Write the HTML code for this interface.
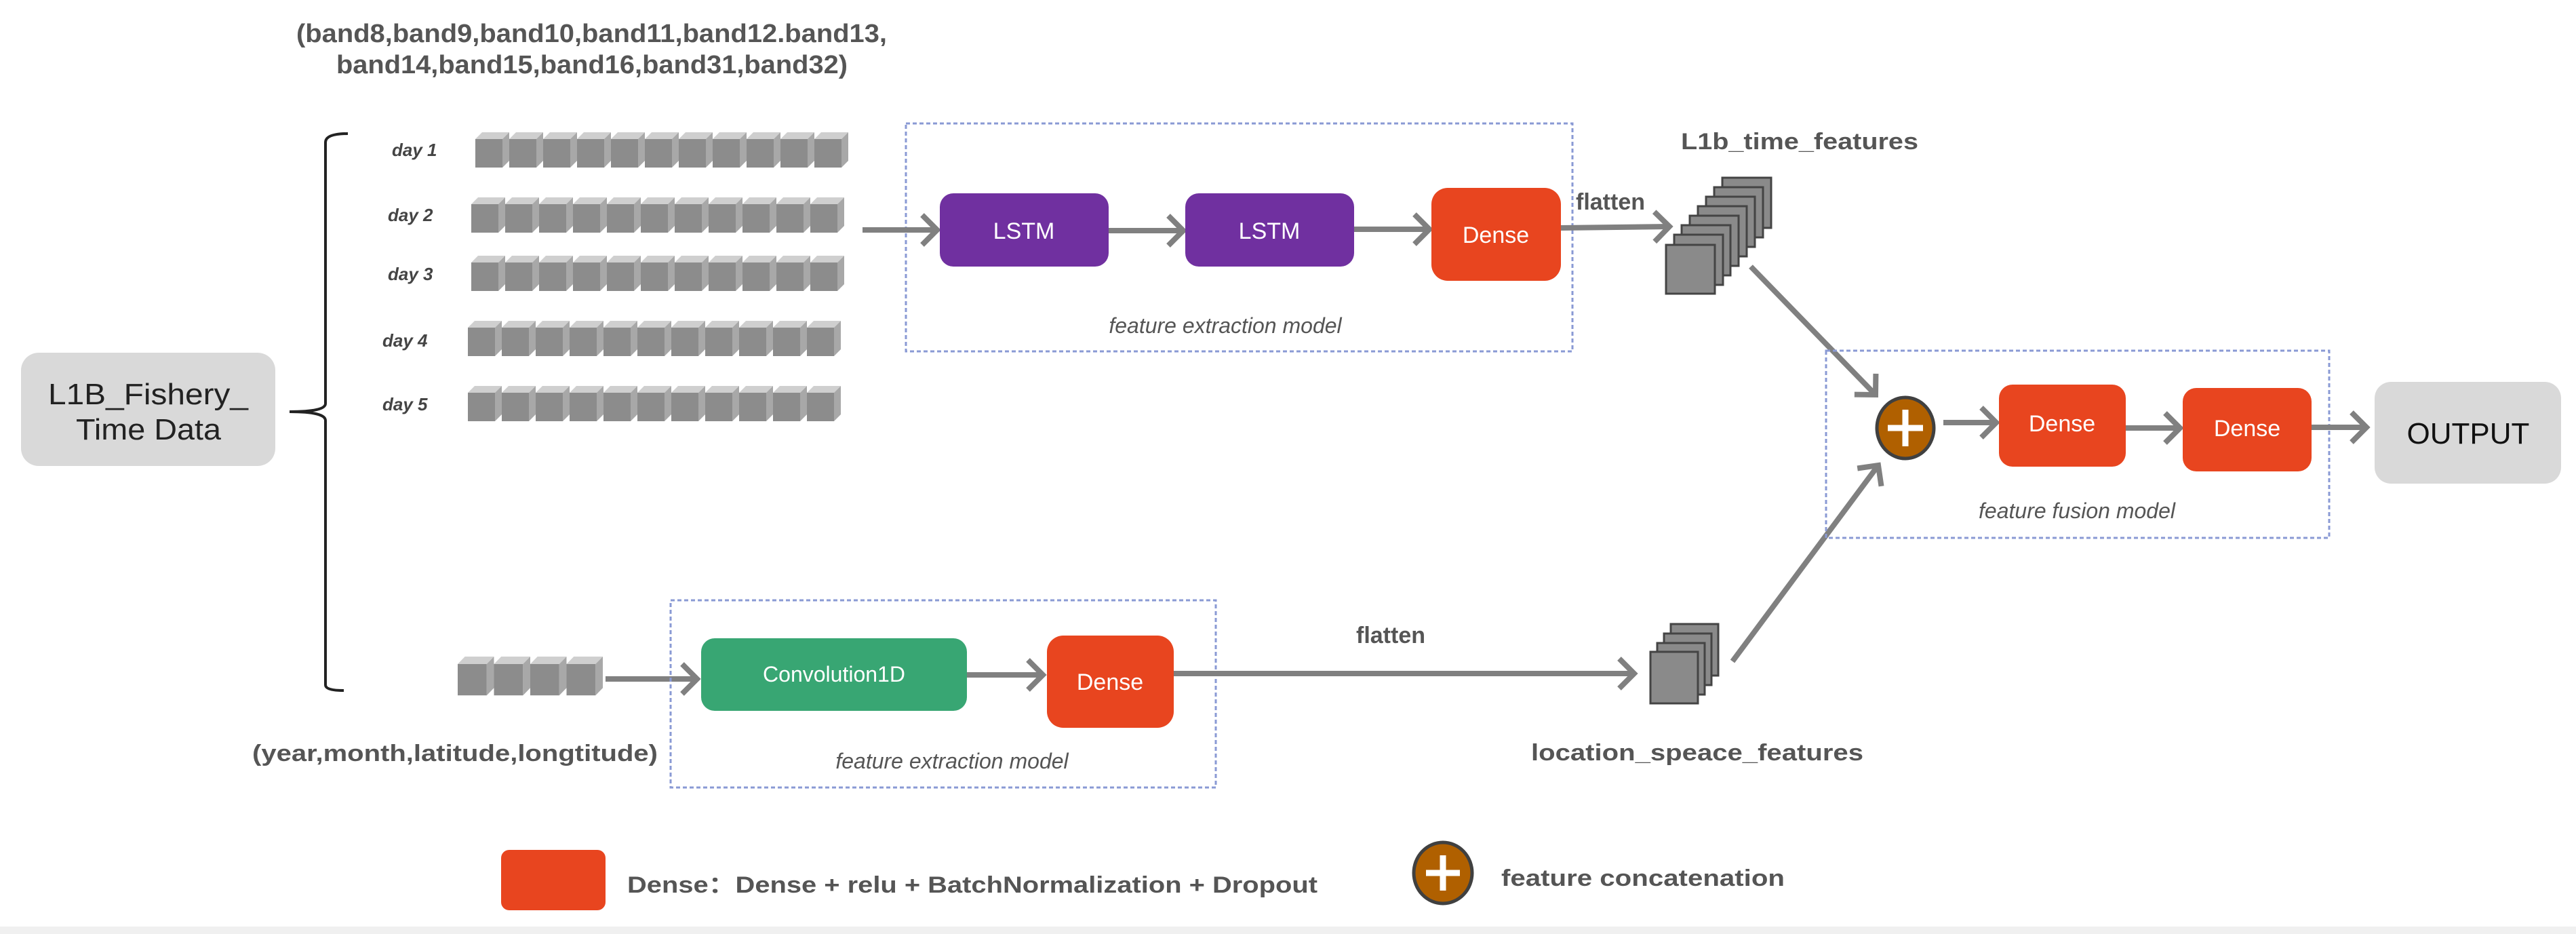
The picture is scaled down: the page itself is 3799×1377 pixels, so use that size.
<!DOCTYPE html>
<html><head><meta charset="utf-8"><style>html,body{margin:0;padding:0;background:#fff}svg{display:block}</style></head>
<body>
<svg width="3799" height="1377" viewBox="0 0 3799 1377" xmlns="http://www.w3.org/2000/svg" font-family="'Liberation Sans', sans-serif">
<defs>
<g id="cube">
<polygon points="0,10 10,0 50,0 40,10" fill="#cfcfcf"/>
<polygon points="40,10 50,0 50,42 40,52" fill="#a8a8a8"/>
<rect x="0" y="10" width="40" height="42" fill="#8c8c8c"/>
</g>
<g id="row">
<use href="#cube" x="0"/><use href="#cube" x="50"/><use href="#cube" x="100"/><use href="#cube" x="150"/><use href="#cube" x="200"/><use href="#cube" x="250"/><use href="#cube" x="300"/><use href="#cube" x="350"/><use href="#cube" x="400"/><use href="#cube" x="450"/><use href="#cube" x="500"/>
</g>
<marker id="ah" markerUnits="userSpaceOnUse" markerWidth="40" markerHeight="60" refX="28" refY="26" orient="auto" viewBox="0 0 40 60">
<path d="M6,4 L28,26 L6,48" fill="none" stroke="#808080" stroke-width="8"/>
</marker>
</defs>

<!-- title -->
<g font-weight="bold" fill="#555" font-size="38">
<text x="437" y="62" textLength="871" lengthAdjust="spacingAndGlyphs">(band8,band9,band10,band11,band12.band13,</text>
<text x="496" y="108" textLength="754" lengthAdjust="spacingAndGlyphs">band14,band15,band16,band31,band32)</text>
</g>

<!-- L1B box -->
<rect x="31" y="520" width="375" height="167" rx="26" fill="#d9d9d9"/>
<text x="71" y="596" font-size="44" fill="#222" textLength="295" lengthAdjust="spacingAndGlyphs">L1B_Fishery_</text>
<text x="112" y="648" font-size="44" fill="#222" textLength="214" lengthAdjust="spacingAndGlyphs">Time Data</text>

<!-- brace -->
<path d="M513,197 Q480,197 480,210 L480,595 Q480,607 427,607 Q480,607 480,620 L480,1010 Q480,1018 507,1018" fill="none" stroke="#222" stroke-width="4"/>

<!-- day labels -->
<g font-weight="bold" font-style="italic" fill="#444" font-size="26">
<text x="578" y="230">day 1</text>
<text x="572" y="326">day 2</text>
<text x="572" y="413">day 3</text>
<text x="564" y="511">day 4</text>
<text x="564" y="605">day 5</text>
</g>
<use href="#row" x="701" y="195"/>
<use href="#row" x="695" y="291"/>
<use href="#row" x="695" y="377"/>
<use href="#row" x="690" y="473"/>
<use href="#row" x="690" y="569"/>

<!-- top extraction box -->
<rect x="1336" y="182" width="983" height="336" fill="none" stroke="#8a9ad4" stroke-width="3" stroke-dasharray="6,4"/>
<line x1="1272" y1="339" x2="1382" y2="339" stroke="#808080" stroke-width="8" marker-end="url(#ah)"/>
<rect x="1386" y="285" width="249" height="108" rx="20" fill="#7030a0"/>
<text x="1510" y="352" font-size="34" fill="#fff" text-anchor="middle">LSTM</text>
<line x1="1635" y1="340" x2="1745" y2="340" stroke="#808080" stroke-width="8" marker-end="url(#ah)"/>
<rect x="1748" y="285" width="249" height="108" rx="20" fill="#7030a0"/>
<text x="1872" y="352" font-size="34" fill="#fff" text-anchor="middle">LSTM</text>
<line x1="1997" y1="338" x2="2108" y2="338" stroke="#808080" stroke-width="8" marker-end="url(#ah)"/>
<rect x="2111" y="277" width="191" height="137" rx="24" fill="#e8451f"/>
<text x="2206" y="358" font-size="34" fill="#fff" text-anchor="middle">Dense</text>
<text x="1807" y="491" font-size="32" font-style="italic" fill="#555" text-anchor="middle">feature extraction model</text>

<line x1="2302" y1="336" x2="2462" y2="334" stroke="#808080" stroke-width="8" marker-end="url(#ah)"/>
<text x="2324" y="309" font-size="34" font-weight="bold" fill="#555">flatten</text>
<text x="2479" y="220" font-size="34" font-weight="bold" fill="#555" textLength="350" lengthAdjust="spacingAndGlyphs">L1b_time_features</text>

<!-- top stack -->
<g fill="#8a8a8a" stroke="#444" stroke-width="3">
<rect x="2540" y="262" width="72" height="74"/>
<rect x="2528" y="276" width="72" height="74"/>
<rect x="2516" y="290" width="72" height="74"/>
<rect x="2504" y="304" width="72" height="74"/>
<rect x="2492" y="318" width="72" height="74"/>
<rect x="2480" y="332" width="72" height="74"/>
<rect x="2469" y="346" width="72" height="74"/>
<rect x="2457" y="361" width="72" height="72"/>
</g>

<!-- arrows to plus -->
<line x1="2582" y1="393" x2="2766" y2="582" stroke="#808080" stroke-width="8" marker-end="url(#ah)"/>
<line x1="2555" y1="975" x2="2770" y2="686" stroke="#808080" stroke-width="8" marker-end="url(#ah)"/>

<!-- fusion box -->
<rect x="2693" y="517" width="742" height="276" fill="none" stroke="#8a9ad4" stroke-width="3" stroke-dasharray="6,4"/>
<ellipse cx="2810" cy="631" rx="42" ry="45" fill="#b06000" stroke="#404040" stroke-width="5"/>
<path d="M2810,604 V658 M2784,631 H2836" stroke="#fff" stroke-width="9"/>
<line x1="2866" y1="623" x2="2944" y2="623" stroke="#808080" stroke-width="8" marker-end="url(#ah)"/>
<rect x="2948" y="567" width="187" height="121" rx="20" fill="#e8451f"/>
<text x="3041" y="636" font-size="34" fill="#fff" text-anchor="middle">Dense</text>
<line x1="3135" y1="631" x2="3215" y2="631" stroke="#808080" stroke-width="8" marker-end="url(#ah)"/>
<rect x="3219" y="572" width="190" height="123" rx="20" fill="#e8451f"/>
<text x="3314" y="643" font-size="34" fill="#fff" text-anchor="middle">Dense</text>
<line x1="3409" y1="630" x2="3490" y2="630" stroke="#808080" stroke-width="8" marker-end="url(#ah)"/>
<rect x="3502" y="563" width="275" height="150" rx="24" fill="#d9d9d9"/>
<text x="3640" y="654" font-size="44" fill="#111" text-anchor="middle">OUTPUT</text>
<text x="3063" y="764" font-size="32" font-style="italic" fill="#555" text-anchor="middle">feature fusion model</text>

<!-- bottom branch -->
<g transform="translate(675,968) scale(1.07,1.1)">
<use href="#cube" x="0"/><use href="#cube" x="50"/><use href="#cube" x="100"/><use href="#cube" x="150"/>
</g>
<line x1="893" y1="1001" x2="1028" y2="1001" stroke="#808080" stroke-width="8" marker-end="url(#ah)"/>
<rect x="989" y="885" width="804" height="276" fill="none" stroke="#8a9ad4" stroke-width="3" stroke-dasharray="6,4"/>
<rect x="1034" y="941" width="392" height="107" rx="20" fill="#38a673"/>
<text x="1230" y="1005" font-size="32" fill="#fff" text-anchor="middle">Convolution1D</text>
<line x1="1426" y1="995" x2="1538" y2="995" stroke="#808080" stroke-width="8" marker-end="url(#ah)"/>
<rect x="1544" y="937" width="187" height="136" rx="24" fill="#e8451f"/>
<text x="1637" y="1017" font-size="34" fill="#fff" text-anchor="middle">Dense</text>
<text x="1404" y="1133" font-size="32" font-style="italic" fill="#555" text-anchor="middle">feature extraction model</text>
<line x1="1731" y1="993" x2="2410" y2="993" stroke="#808080" stroke-width="8" marker-end="url(#ah)"/>
<text x="2051" y="948" font-size="34" font-weight="bold" fill="#555" text-anchor="middle">flatten</text>

<g fill="#8a8a8a" stroke="#444" stroke-width="3">
<rect x="2464" y="920" width="70" height="76"/>
<rect x="2454" y="934" width="70" height="76"/>
<rect x="2444" y="948" width="70" height="76"/>
<rect x="2434" y="961" width="70" height="76"/>
</g>

<g font-weight="bold" fill="#555" font-size="34">
<text x="372" y="1122" textLength="598" lengthAdjust="spacingAndGlyphs">(year,month,latitude,longtitude)</text>
<text x="2258" y="1121" textLength="490" lengthAdjust="spacingAndGlyphs">location_speace_features</text>
</g>

<!-- legend -->
<rect x="739" y="1253" width="154" height="89" rx="12" fill="#e8451f"/>
<text x="925" y="1316" font-size="34" font-weight="bold" fill="#555" textLength="1018" lengthAdjust="spacingAndGlyphs">Dense：Dense + relu + BatchNormalization + Dropout</text>
<ellipse cx="2128" cy="1287" rx="43" ry="45" fill="#b06000" stroke="#404040" stroke-width="5"/>
<path d="M2128,1261 V1313 M2103,1287 H2153" stroke="#fff" stroke-width="9"/>
<text x="2214" y="1306" font-size="34" font-weight="bold" fill="#555" textLength="418" lengthAdjust="spacingAndGlyphs">feature concatenation</text>

<rect x="0" y="1366" width="3799" height="11" fill="#f0f0f0"/>
</svg>
</body></html>
